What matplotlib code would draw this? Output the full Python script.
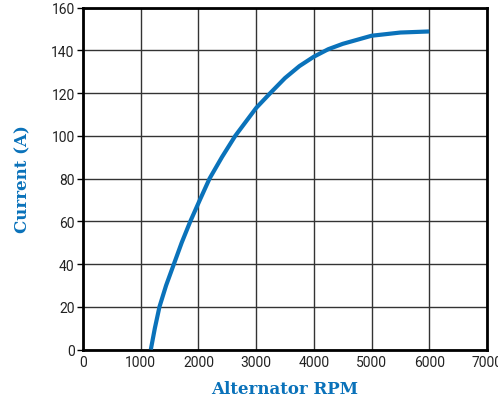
import matplotlib.pyplot as plt

# alternator output curve
rpm = [1175, 1245, 1325, 1440, 1575, 1710, 1860, 2025, 2193, 2407, 2639, 3000, 3246,
       3500, 3750, 4000, 4250, 4500, 5000, 5500, 6000]
current = [0, 10, 20, 30, 40, 50, 60, 70, 80, 90, 100, 113, 120,
           127, 132.6, 137, 140.5, 143, 146.8, 148.3, 148.8]

x_ticks = [0, 1000, 2000, 3000, 4000, 5000, 6000, 7000]
y_ticks = [0, 20, 40, 60, 80, 100, 120, 140, 160]

blue = '#0a72ba'
tick_font = ['Roboto', 'DejaVu Sans']
label_font = ['DejaVu Serif', 'DejaVu Sans']

fig = plt.figure(figsize=(4.98, 4.02), dpi=100)
ax = fig.add_axes([0.1667, 0.1281, 0.8112, 0.8507])

ax.plot(rpm, current, color=blue, linewidth=3, solid_capstyle='butt', zorder=3)

ax.set_xlim(0, 7000)
ax.set_ylim(0, 160)
ax.set_xticks(x_ticks)
ax.set_yticks(y_ticks)
ax.grid(True, color='#333333', linewidth=1)
ax.set_axisbelow(True)

for s in ax.spines.values():
    s.set_linewidth(2)
    s.set_color('black')

ax.tick_params(axis='x', length=0, pad=4)
ax.tick_params(axis='y', length=4, width=1, pad=2)
for lbl in ax.get_xticklabels() + ax.get_yticklabels():
    lbl.set_family(tick_font)
    lbl.set_fontsize(10)
    lbl.set_color('#222222')

ax.set_xlabel('Alternator RPM', family=label_font, fontsize=12, fontweight='bold',
              color=blue, labelpad=8)
ax.set_ylabel('Current (A)', family=label_font, fontsize=12, fontweight='bold',
              color=blue, labelpad=14)

fig.savefig('out.png', dpi=100)
